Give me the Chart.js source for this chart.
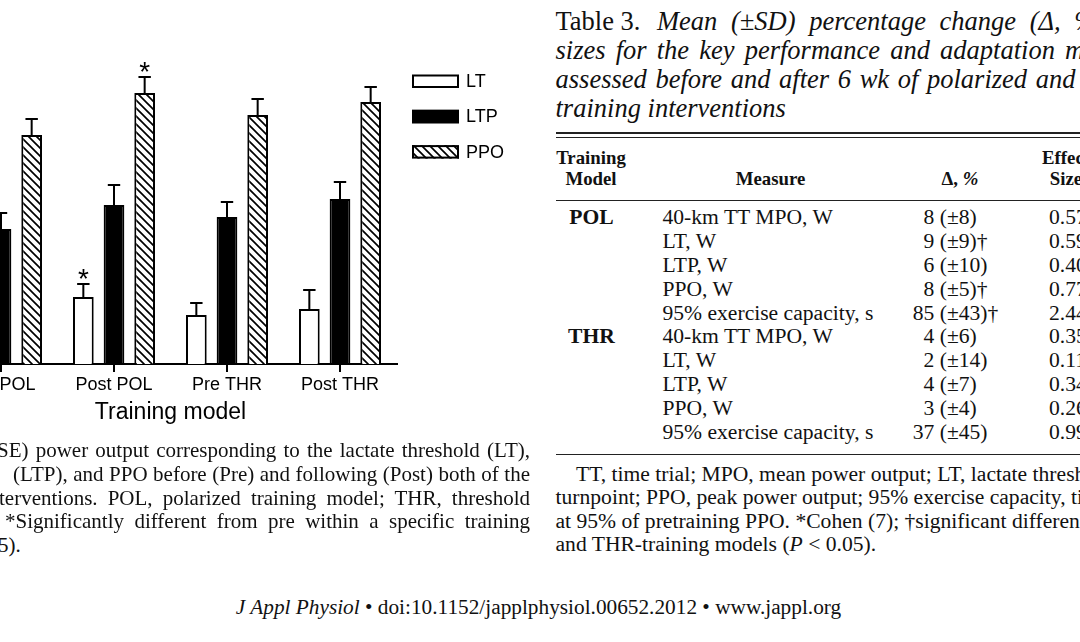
<!DOCTYPE html>
<html>
<head>
<meta charset="utf-8">
<script src="https://cdn.jsdelivr.net/npm/chart.js@4.4.1/dist/chart.umd.min.js"></script>
<style>
  html, body { margin: 0; padding: 0; background: #fff; }
  body {
    width: 1080px; height: 642px; overflow: hidden; position: relative;
    font-family: "Liberation Serif", "Times New Roman", serif; color: #111;
  }
  .t { position: absolute; white-space: nowrap; line-height: 1; }
  .j { position: absolute; white-space: nowrap; line-height: 1; text-align: justify; text-align-last: justify; }
  .rule { position: absolute; background: #222; }
  #chartBox { position: absolute; left: -56px; top: 44px; width: 593px; height: 397px; }
</style>
</head>
<body>
<div id="chartBox"><canvas id="fig" width="593" height="397"></canvas></div>

<script>
// Figure data: mean power output (W) with SE
const categories = ['Pre POL', 'Post POL', 'Pre THR', 'Post THR'];
const seriesNames = ['LT', 'LTP', 'PPO'];
const ltValues = [150, 167, 149, 155];
const ltErrors = [12, 13, 12, 19];
const ltpValues = [235, 259, 247, 265];
const ltpErrors = [16, 20, 15, 17];
const ppoValues = [329, 371, 349, 362];
const ppoErrors = [16, 16, 16, 15];
// * = significantly different from pre
const ltStars = [false, true, false, false];
const ltpStars = [false, false, false, false];
const ppoStars = [false, true, false, false];

// Table 3 rows
const tableModels = ['POL', '', '', '', '', 'THR', '', '', '', ''];
const tableMeasures = ['40-km TT MPO, W', 'LT, W', 'LTP, W', 'PPO, W', '95% exercise capacity, s',
                       '40-km TT MPO, W', 'LT, W', 'LTP, W', 'PPO, W', '95% exercise capacity, s'];
const tableDelta = ['8', '9', '6', '8', '85', '4', '2', '4', '3', '37'];
const tableSD = ['(±8)', '(±9)†', '(±10)', '(±5)†', '(±43)†', '(±6)', '(±14)', '(±7)', '(±4)', '(±45)'];
const tableEffect = ['0.57', '0.59', '0.40', '0.77', '2.44', '0.35', '0.11', '0.34', '0.26', '0.99'];

const SANS = '"Liberation Sans", Arial, Helvetica, sans-serif';

// ---------- page text ----------
function put(html, x, base, size, extra) {
    const d = document.createElement('div');
    d.className = 't';
    d.innerHTML = html;
    d.style.fontSize = size + 'px';
    d.style.left = x + 'px';
    d.style.top = (base - 0.8375 * size) + 'px';
    if (extra) Object.assign(d.style, extra);
    document.body.appendChild(d);
    return d;
}
function justified(html, left, right, base, size) {
    const d = put(html, left, base, size);
    d.className = 'j';
    d.style.width = (right - left) + 'px';
    return d;
}
function rule(x, y, w, h) {
    const d = document.createElement('div');
    d.className = 'rule';
    Object.assign(d.style, { left: x + 'px', top: y + 'px', width: w + 'px', height: h + 'px' });
    document.body.appendChild(d);
}
const centred = { transform: 'translateX(-50%)' };
const boldCentred = { fontWeight: 'bold', transform: 'translateX(-50%)' };

// table title
put('Table 3.', 555.5, 30, 26.5);
put('<i>Mean (±SD) percentage change (Δ, %) and effect</i>', 657, 30, 26.5, { wordSpacing: '7px' });
put('<i>sizes for the key performance and adaptation measures</i>', 555.5, 59, 26.5, { wordSpacing: '3.5px' });
put('<i>assessed before and after 6 wk of polarized and threshold</i>', 555.5, 88, 26.5, { wordSpacing: '2px' });
put('<i>training interventions</i>', 555.5, 117, 26.5);

rule(555.5, 132, 530, 1.5);
rule(555.5, 136.5, 530, 1.5);

// header
put('Training', 591, 165, 18.8, boldCentred);
put('Model', 591, 186, 18.8, boldCentred);
put('Measure', 770.5, 186, 18.8, boldCentred);
put('Δ, <i>%</i>', 960, 186, 18.8, boldCentred);
put('Effect', 1066, 165, 18.8, boldCentred);
put('Size', 1066, 186, 18.8, boldCentred);
rule(555.5, 199.5, 530, 1.2);

tableMeasures.forEach((m, i) => {
    const base = 225 + i * 23.9;
    if (tableModels[i]) put(tableModels[i], 591.5, base, 21.6, boldCentred);
    put(m, 662.5, base, 21.6);
    put(tableDelta[i], 934.3, base, 21.6, { transform: 'translateX(-100%)' });
    put('&nbsp;' + tableSD[i], 934.3, base, 21.6);
    put(tableEffect[i], 1049, base, 21.6);
});
rule(555.5, 453.5, 530, 1.2);

// table footnote
put('TT, time trial; MPO, mean power output; LT, lactate threshold; LTP, lactate', 576, 482, 21.6);
put('turnpoint; PPO, peak power output; 95% exercise capacity, time to exhaustion', 555.5, 505.5, 21.6);
put('at 95% of pretraining PPO. *Cohen (7); †significant difference between POL-', 555.5, 529, 21.6);
put('and THR-training models (<i>P</i> &lt; 0.05).', 555.5, 552.5, 21.6);

// figure caption (left part cut by the page edge)
justified('SE) power output corresponding to the lactate threshold (LT),', -3, 530, 458, 21);
justified('(LTP), and PPO before (Pre) and following (Post) both of the', 13, 530, 482, 21);
justified('terventions. POL, polarized training model; THR, threshold', -1, 530, 505.5, 21);
justified('*Significantly different from pre within a specific training', 5, 530, 529, 21);
put('5).', -2, 552.5, 21);

// running footer
put('<i>J Appl Physiol</i> • doi:10.1152/japplphysiol.00652.2012 • www.jappl.org', 538.5, 615, 21.3, centred);

// ---------- chart ----------
function makeHatch() {
    const c = document.createElement('canvas');
    c.width = 8; c.height = 8;
    const g = c.getContext('2d');
    g.fillStyle = '#fff';
    g.fillRect(0, 0, 8, 8);
    g.strokeStyle = '#000';
    g.lineWidth = 1.7;
    g.beginPath();
    g.moveTo(0, 0); g.lineTo(8, 8);
    g.moveTo(-2, 6); g.lineTo(2, 10);
    g.moveTo(6, -2); g.lineTo(10, 2);
    g.stroke();
    return g.createPattern(c, 'repeat');
}
const hatch = makeHatch();

const errorBars = {
    id: 'errorBars',
    afterDatasetsDraw(chart) {
        const ctx = chart.ctx;
        const y = chart.scales.y;
        ctx.save();
        ctx.strokeStyle = '#000';
        ctx.fillStyle = '#000';
        ctx.lineWidth = 2;
        chart.data.datasets.forEach((ds, di) => {
            const meta = chart.getDatasetMeta(di);
            meta.data.forEach((bar, i) => {
                const top = y.getPixelForValue(ds.data[i]);
                const end = y.getPixelForValue(ds.data[i] + ds.errors[i]);
                ctx.beginPath();
                ctx.moveTo(bar.x, top);
                ctx.lineTo(bar.x, end);
                ctx.moveTo(bar.x - 6.2, end);
                ctx.lineTo(bar.x + 6.2, end);
                ctx.stroke();
                if (ds.stars[i]) {
                    ctx.font = '28px ' + SANS;
                    ctx.textAlign = 'center';
                    ctx.textBaseline = 'alphabetic';
                    ctx.fillText('*', bar.x, end + 3.5);
                }
            });
        });
        ctx.restore();
    }
};

const boxLegend = {
    id: 'boxLegend',
    afterDraw(chart) {
        const ctx = chart.ctx;
        const area = chart.chartArea;
        ctx.save();
        chart.data.datasets.forEach((ds, i) => {
            const bx = area.right + 15.5;
            const by = area.top + 10.5 + i * 35.3;
            ctx.fillStyle = ds.backgroundColor;
            ctx.fillRect(bx, by, 47, 13.5);
            ctx.strokeStyle = '#000';
            ctx.lineWidth = 2;
            ctx.strokeRect(bx + 1, by + 1, 45, 11.5);
            ctx.fillStyle = '#000';
            ctx.font = '18px ' + SANS;
            ctx.textAlign = 'left';
            ctx.textBaseline = 'middle';
            ctx.fillText(ds.label, bx + 54, by + 7.5);
        });
        ctx.restore();
    }
};

const barStyle = { borderColor: '#000', borderWidth: 2, categoryPercentage: 0.814, barPercentage: 0.675 };

new Chart(document.getElementById('fig'), {
    type: 'bar',
    data: {
        labels: categories,
        datasets: [
            { label: seriesNames[0], data: ltValues, errors: ltErrors, stars: ltStars, backgroundColor: '#fff', ...barStyle },
            { label: seriesNames[1], data: ltpValues, errors: ltpErrors, stars: ltpStars, backgroundColor: '#000', ...barStyle },
            { label: seriesNames[2], data: ppoValues, errors: ppoErrors, stars: ppoStars, backgroundColor: hatch, ...barStyle }
        ]
    },
    options: {
        responsive: false,
        animation: false,
        layout: { padding: { top: 20, right: 140.5, bottom: 1.7, left: 0.5 } },
        plugins: { legend: { display: false }, tooltip: { enabled: false } },
        scales: {
            x: {
                z: 1,
                grid: { display: true, drawOnChartArea: false, drawTicks: true, tickLength: 8, offset: false, color: '#000', lineWidth: 2 },
                border: { display: true, color: '#000', width: 2 },
                ticks: { color: '#000', padding: 2.5, font: { family: SANS, size: 18 } },
                title: { display: true, text: 'Training model', color: '#000', padding: { top: 0, bottom: 13 }, font: { family: SANS, size: 23 } }
            },
            y: { display: false, min: 100, max: 400 }
        }
    },
    plugins: [errorBars, boxLegend]
});
</script>
</body>
</html>
